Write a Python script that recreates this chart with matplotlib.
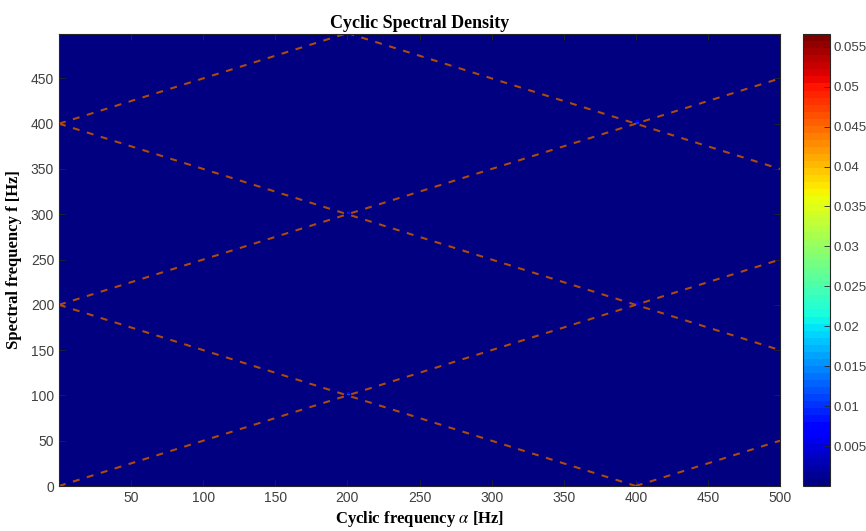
import numpy as np
import matplotlib.pyplot as plt

# dashed line segments (cyclic alpha [Hz], spectral f [Hz])
seg_alpha = [[0, 500], [0, 400], [0, 500], [0, 500], [0, 200], [200, 500], [400, 500]]
seg_f = [[0, 250], [200, 0], [200, 450], [400, 150], [400, 500], [500, 350], [0, 50]]

# small peaks visible at the crossings
peak_alpha = [200, 200, 400, 400, 0, 400]
peak_f = [100, 300, 200, 400, 200, 0]
peak_val = [0.012, 0.008, 0.006, 0.010, 0.006, 0.012]

cbar_ticks = [0.005, 0.01, 0.015, 0.02, 0.025, 0.03, 0.035, 0.04, 0.045, 0.05, 0.055]
vmax = 0.0566

plt.rcParams["lines.scale_dashes"] = False
plt.rcParams["mathtext.fontset"] = "stix"

fig = plt.figure(figsize=(8.66, 5.31), dpi=100)
ax = fig.add_axes([59 / 866, 1 - 486 / 531, 721 / 866, 452 / 531])
cax = fig.add_axes([803 / 866, 1 - 486 / 531, 27 / 866, 452 / 531])

# spectral density map (zero except tiny peaks)
alpha = np.arange(0, 502, 2.0)
freq = np.arange(0, 502, 2.0)
S = np.zeros((len(freq) - 1, len(alpha) - 1))
for a, f, v in zip(peak_alpha, peak_f, peak_val):
    i = min(int(f // 2), S.shape[0] - 1)
    j = min(int(a // 2), S.shape[1] - 1)
    S[i, j] = v
    if i + 1 < S.shape[0]:
        S[i + 1, j] = v * 0.6

cmap = plt.get_cmap("jet", 64)
mesh = ax.pcolormesh(alpha, freq, S, cmap=cmap, vmin=0, vmax=vmax, shading="flat")

for xs, ys in zip(seg_alpha, seg_f):
    ax.plot(xs, ys, color="#ad4a0e", lw=1.5, dashes=(5, 5.5))

ax.set_xlim(0, 500)
ax.set_ylim(0, 499)
ax.set_xticks(np.arange(50, 501, 50))
ax.set_yticks(np.arange(0, 451, 50))
ax.tick_params(direction="in", top=True, right=True, length=4, width=0.6,
               colors="#262626", labelcolor="#404040", labelsize=10)
for lab in ax.get_xticklabels() + ax.get_yticklabels():
    lab.set_family("Liberation Sans")
for s in ax.spines.values():
    s.set_color("#262626")
    s.set_linewidth(0.8)

ax.set_title("Cyclic Spectral Density", family="Liberation Serif",
             fontweight="bold", fontsize=13, pad=4)
ax.set_xlabel(r"Cyclic frequency $\alpha$ [Hz]", family="Liberation Serif",
              fontweight="bold", fontsize=12, labelpad=3)
ax.set_ylabel("Spectral frequency f [Hz]", family="Liberation Serif",
              fontweight="bold", fontsize=12, labelpad=6)

cb = fig.colorbar(mesh, cax=cax, ticks=cbar_ticks)
cb.ax.tick_params(direction="in", length=4, width=0.6, colors="#262626",
                  labelcolor="#404040", labelsize=9.5, pad=2.5)
cb.ax.set_yticklabels([f"{t:g}" for t in cbar_ticks], family="Liberation Sans")
cb.outline.set_edgecolor("#262626")
cb.outline.set_linewidth(0.8)

fig.savefig("out.png", dpi=100)
